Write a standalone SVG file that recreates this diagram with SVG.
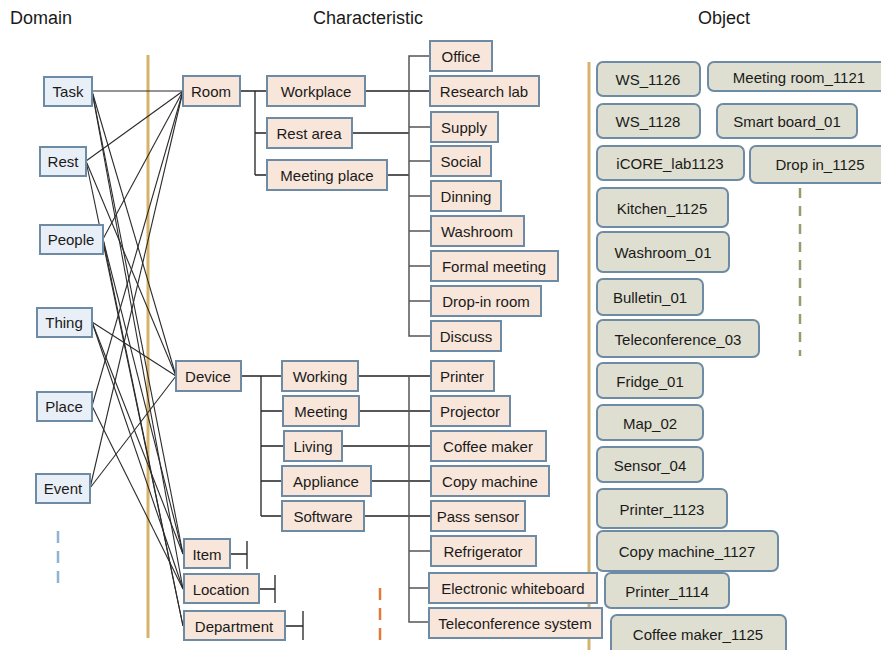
<svg xmlns="http://www.w3.org/2000/svg" width="881" height="650" viewBox="0 0 881 650">
<style>
text{font-family:"Liberation Sans","DejaVu Sans",sans-serif;font-size:15px;fill:#1a1a1a;text-anchor:middle;dominant-baseline:central}
.hdr{font-size:18px;text-anchor:start}
.d rect{fill:#e9eff7;stroke:#6e8ba5;stroke-width:2}
.c rect{fill:#f8e6da;stroke:#6e8ba5;stroke-width:2}
.o rect{fill:#dedfd0;stroke:#6e8ba5;stroke-width:2;rx:6}
.x line{stroke:#2b2b2b;stroke-width:1.1}
.t path,.t line{stroke:#222;stroke-width:1.3;fill:none}
.g path,.g line{stroke:#555;stroke-width:1.5;fill:none}
</style>
<rect width="881" height="650" fill="#fff"/>
<text class="hdr" x="10" y="18">Domain</text>
<text class="hdr" x="313" y="18">Characteristic</text>
<text class="hdr" x="698" y="18">Object</text>
<line x1="148" y1="55" x2="148" y2="638" stroke="#d6b36a" stroke-width="3"/>
<line x1="589" y1="62" x2="589" y2="650" stroke="#d6b36a" stroke-width="3"/>
<line x1="58" y1="531" x2="58" y2="583" stroke="#8fb3d3" stroke-width="2.5" stroke-dasharray="12,8"/>
<line x1="380" y1="588" x2="380" y2="640" stroke="#e07b3c" stroke-width="2.5" stroke-dasharray="12,8"/>
<line x1="800" y1="188" x2="800" y2="356" stroke="#9a9a6e" stroke-width="2.5" stroke-dasharray="10,8"/>
<g id="cross-links" class="x">
<line x1="92" y1="91" x2="183" y2="91"/><line x1="92" y1="91" x2="176" y2="376"/><line x1="92" y1="91" x2="183" y2="554"/><line x1="92" y1="91" x2="183" y2="589"/>
<line x1="86" y1="161" x2="183" y2="91"/><line x1="86" y1="161" x2="176" y2="376"/><line x1="86" y1="161" x2="183" y2="626"/>
<line x1="103" y1="239" x2="183" y2="91"/><line x1="103" y1="239" x2="183" y2="554"/><line x1="103" y1="239" x2="183" y2="626"/>
<line x1="92" y1="322" x2="176" y2="376"/><line x1="92" y1="322" x2="183" y2="589"/><line x1="92" y1="322" x2="183" y2="554"/>
<line x1="92" y1="406" x2="183" y2="91"/><line x1="92" y1="406" x2="183" y2="589"/>
<line x1="90" y1="488" x2="183" y2="91"/><line x1="90" y1="488" x2="176" y2="376"/>
</g>
<g id="tree-links">
<g class="t">
<path d="M240 91H255M255 91V175M255 91H267M255 133H267M255 175H267"/>
<path d="M241 376H261M261 376V516M261 376H282M261 411H283M261 446H284M261 481H282M261 516H282"/>
<path d="M230 554H247M247 541V569M259 589H275M275 575V603M285 626H303M303 611V640"/>
<path d="M365 91H430M352 133H409M387 175H409"/>
<path d="M358 376H430M359 411H430M342 446H430M371 481H430M364 516H430"/>
</g>
<g class="g">
<path d="M430 56H409V336H430M409 127H430M409 161H430M409 196H430M409 231H430M409 266H430M409 301H430"/>
<path d="M409 376V622H428M409 551H430M409 588H428"/>
</g>
</g>
<g id="domain" class="d">
<g id="n-task"><rect x="44" y="77" width="48" height="29"/><text x="68" y="91">Task</text></g>
<g id="n-rest"><rect x="40" y="147" width="46" height="29"/><text x="63" y="161">Rest</text></g>
<g id="n-people"><rect x="40" y="225" width="63" height="29"/><text x="71" y="239">People</text></g>
<g id="n-thing"><rect x="37" y="308" width="55" height="29"/><text x="64" y="322">Thing</text></g>
<g id="n-place"><rect x="37" y="392" width="55" height="29"/><text x="64" y="406">Place</text></g>
<g id="n-event"><rect x="36" y="474" width="54" height="29"/><text x="63" y="488">Event</text></g>
</g>
<g id="characteristic" class="c">
<g id="n-room"><rect x="183" y="76" width="57" height="30"/><text x="211" y="91">Room</text></g>
<g id="n-workplace"><rect x="267" y="76" width="98" height="30"/><text x="316" y="91">Workplace</text></g>
<g id="n-restarea"><rect x="267" y="118" width="85" height="30"/><text x="309" y="133">Rest area</text></g>
<g id="n-meetingplace"><rect x="267" y="160" width="120" height="30"/><text x="327" y="175">Meeting place</text></g>
<g id="n-office"><rect x="430" y="41" width="62" height="30"/><text x="461" y="56">Office</text></g>
<g id="n-researchlab"><rect x="430" y="76" width="109" height="30"/><text x="484" y="91">Research lab</text></g>
<g id="n-supply"><rect x="431" y="112" width="67" height="30"/><text x="464" y="127">Supply</text></g>
<g id="n-social"><rect x="431" y="146" width="60" height="30"/><text x="461" y="161">Social</text></g>
<g id="n-dinning"><rect x="431" y="181" width="70" height="30"/><text x="466" y="196">Dinning</text></g>
<g id="n-washroom"><rect x="431" y="216" width="93" height="30"/><text x="477" y="231">Washroom</text></g>
<g id="n-formal"><rect x="431" y="251" width="127" height="30"/><text x="494" y="266">Formal meeting</text></g>
<g id="n-dropin"><rect x="431" y="286" width="110" height="30"/><text x="486" y="301">Drop-in room</text></g>
<g id="n-discuss"><rect x="431" y="321" width="70" height="30"/><text x="466" y="336">Discuss</text></g>
<g id="n-device"><rect x="176" y="361" width="65" height="30"/><text x="208" y="376">Device</text></g>
<g id="n-working"><rect x="282" y="361" width="76" height="30"/><text x="320" y="376">Working</text></g>
<g id="n-meeting"><rect x="283" y="396" width="76" height="30"/><text x="321" y="411">Meeting</text></g>
<g id="n-living"><rect x="284" y="431" width="58" height="30"/><text x="313" y="446">Living</text></g>
<g id="n-appliance"><rect x="282" y="466" width="89" height="30"/><text x="326" y="481">Appliance</text></g>
<g id="n-software"><rect x="282" y="501" width="82" height="30"/><text x="323" y="516">Software</text></g>
<g id="n-printer"><rect x="431" y="361" width="63" height="30"/><text x="462" y="376">Printer</text></g>
<g id="n-projector"><rect x="431" y="396" width="79" height="30"/><text x="470" y="411">Projector</text></g>
<g id="n-coffee"><rect x="431" y="431" width="115" height="30"/><text x="488" y="446">Coffee maker</text></g>
<g id="n-copy"><rect x="431" y="466" width="118" height="30"/><text x="490" y="481">Copy machine</text></g>
<g id="n-pass"><rect x="431" y="501" width="94" height="30"/><text x="478" y="516">Pass sensor</text></g>
<g id="n-fridge"><rect x="431" y="536" width="105" height="30"/><text x="483" y="551">Refrigerator</text></g>
<g id="n-ewb"><rect x="429" y="573" width="168" height="30"/><text x="513" y="588">Electronic whiteboard</text></g>
<g id="n-tele"><rect x="429" y="608" width="173" height="30"/><text x="515" y="623">Teleconference system</text></g>
<g id="n-item"><rect x="184" y="539" width="46" height="29"/><text x="207" y="554">Item</text></g>
<g id="n-location"><rect x="184" y="574" width="75" height="29"/><text x="221" y="589">Location</text></g>
<g id="n-department"><rect x="184" y="611" width="101" height="29"/><text x="234" y="626">Department</text></g>
</g>
<g id="objects" class="o">
<g id="o1"><rect x="597" y="62" width="103" height="34"/><text x="648" y="79">WS_1126</text></g>
<g id="o2"><rect x="708" y="62" width="180" height="29"/><text x="799" y="77">Meeting room_1121</text></g>
<g id="o3"><rect x="597" y="104" width="103" height="34"/><text x="648" y="121">WS_1128</text></g>
<g id="o4"><rect x="717" y="104" width="140" height="34"/><text x="787" y="121">Smart board_01</text></g>
<g id="o5"><rect x="597" y="146" width="147" height="34"/><text x="670" y="163">iCORE_lab1123</text></g>
<g id="o6"><rect x="750" y="146" width="138" height="37"/><text x="820" y="164">Drop in_1125</text></g>
<g id="o7"><rect x="597" y="188" width="131" height="39"/><text x="662" y="208">Kitchen_1125</text></g>
<g id="o8"><rect x="597" y="232" width="132" height="40"/><text x="663" y="252">Washroom_01</text></g>
<g id="o9"><rect x="597" y="279" width="106" height="36"/><text x="650" y="297">Bulletin_01</text></g>
<g id="o10"><rect x="597" y="320" width="162" height="37"/><text x="678" y="339">Teleconference_03</text></g>
<g id="o11"><rect x="597" y="363" width="106" height="35"/><text x="650" y="381">Fridge_01</text></g>
<g id="o12"><rect x="597" y="405" width="106" height="35"/><text x="650" y="423">Map_02</text></g>
<g id="o13"><rect x="597" y="447" width="106" height="35"/><text x="650" y="465">Sensor_04</text></g>
<g id="o14"><rect x="597" y="489" width="130" height="39"/><text x="662" y="509">Printer_1123</text></g>
<g id="o15"><rect x="597" y="531" width="181" height="40"/><text x="687" y="551">Copy machine_1127</text></g>
<g id="o16"><rect x="605" y="573" width="124" height="35"/><text x="667" y="591">Printer_1114</text></g>
<g id="o17"><rect x="611" y="615" width="175" height="40"/><text x="698" y="634">Coffee maker_1125</text></g>
</g>
</svg>
